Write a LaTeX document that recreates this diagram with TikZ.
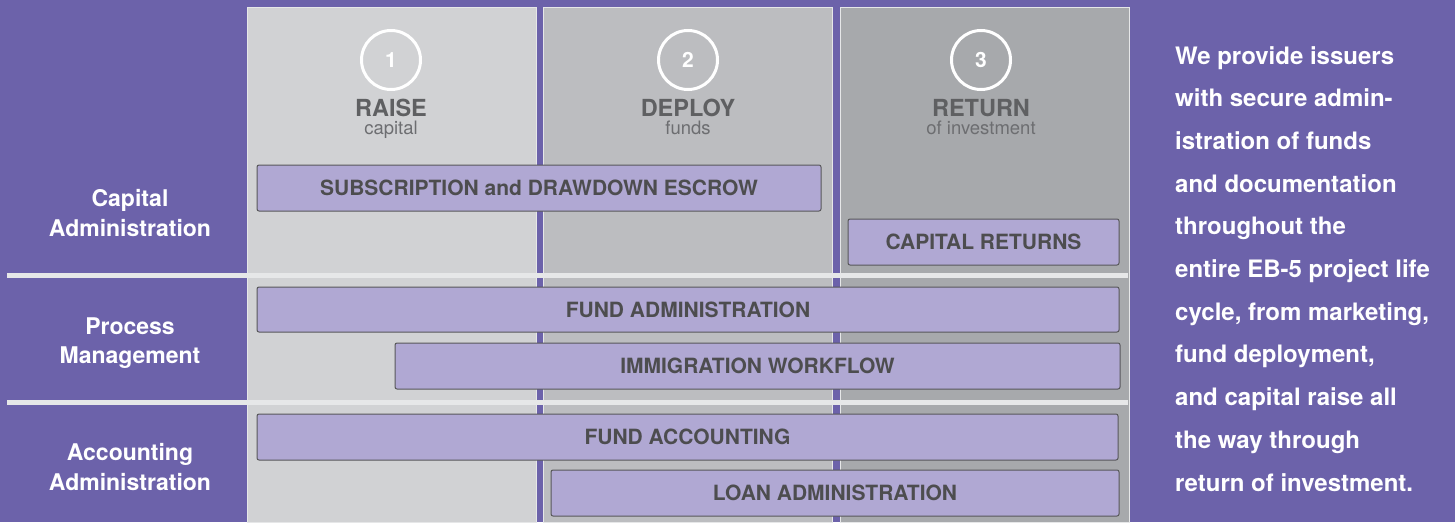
\documentclass[tikz,border=0pt]{standalone}
\usepackage{fontspec}
\setmainfont{TeX Gyre Heros}
\usetikzlibrary{positioning}
\definecolor{bgpurple}{RGB}{108, 98, 170}
\definecolor{colraise}{RGB}{209, 210, 212}
\definecolor{coldeploy}{RGB}{188, 189, 192}
\definecolor{colreturn}{RGB}{167, 169, 172}
\definecolor{barfill}{RGB}{176, 168, 211}
\definecolor{barline}{RGB}{88, 88, 90}
\definecolor{bartext}{RGB}{77, 77, 79}
\definecolor{headgray}{RGB}{95, 96, 98}
\definecolor{subgray}{RGB}{109, 110, 113}
\definecolor{rulegray}{RGB}{230, 231, 232}
\tikzset{
  phasecol/.style={draw=rulegray, line width=0.8pt, minimum width=289pt, minimum height=515pt, outer sep=0pt, inner sep=0pt},
  numcircle/.style={circle, draw=white, line width=3pt, minimum size=59pt, inner sep=0pt, text=white, font=\fontsize{21}{24}\selectfont\bfseries},
  phasehead/.style={inner sep=0pt, text=headgray, font=\fontsize{23.5}{26}\selectfont\bfseries},
  phasesub/.style={inner sep=0pt, text=subgray, font=\fontsize{18.5}{21}\selectfont},
  servicebar/.style={draw=barline, line width=1pt, fill=barfill, rounded corners=2pt, minimum height=46pt, inner sep=0pt, text=bartext, font=\fontsize{21}{24}\selectfont\bfseries},
  rowlabel/.style={align=center, inner sep=0pt, text=white, font=\fontsize{23}{29.5}\selectfont\bfseries},
  rowrule/.style={draw=rulegray, line width=4.5pt},
  blurb/.style={align=left, inner sep=0pt, text=white, font=\fontsize{24}{42.7}\selectfont\bfseries}
}
\begin{document}
\begin{tikzpicture}[x=1pt, y=-1pt]
    \useasboundingbox (0,0) rectangle (1455,522);
    \fill[bgpurple] (0,0) rectangle (1455,522);

    % three phase columns
    \node (col1) [phasecol, fill=colraise, anchor=north west] at (247,7) {};
    \node (col2) [phasecol, fill=coldeploy, right=7.5pt of col1] {};
    \node (col3) [phasecol, fill=colreturn, right=7.5pt of col2] {};

    \node (num1) [numcircle] at (391,60) {1};
    \node (num2) [numcircle] at (688,60) {2};
    \node (num3) [numcircle] at (981,60) {3};
    \node (raise) [phasehead, below=8pt of num1] {RAISE};
    \node (deploy) [phasehead, below=8pt of num2] {DEPLOY};
    \node (return) [phasehead, below=8pt of num3] {RETURN};
    \node (raisesub) [phasesub, below=4pt of raise] {capital};
    \node (deploysub) [phasesub, below=4pt of deploy] {funds};
    \node (returnsub) [phasesub, below=4pt of return] {of investment};

    % row separators
    \draw[rowrule] (7,275.5) -- (1128,275.5);
    \draw[rowrule] (7,402.5) -- (1128,402.5);

    % service bars
    \node (escrow) [servicebar, minimum width=564pt] at (539,188) {SUBSCRIPTION and DRAWDOWN ESCROW};
    \node (capret) [servicebar, minimum width=271pt] at (983.5,242) {CAPITAL RETURNS};
    \node (fundadm) [servicebar, minimum width=862pt, minimum height=45pt] at (688,309.5) {FUND ADMINISTRATION};
    \node (immig) [servicebar, minimum width=725pt] at (757.5,366) {IMMIGRATION WORKFLOW};
    \node (fundacc) [servicebar, minimum width=861pt] at (687.5,437) {FUND ACCOUNTING};
    \node (loanadm) [servicebar, minimum width=568pt] at (835,493) {LOAN ADMINISTRATION};

    % row labels
    \node (capadm) [rowlabel] at (130,213) {Capital\\Administration};
    \node (procmgmt) [rowlabel] at (130,343) {Process\\Management};
    \node (acctadm) [rowlabel] at (130,467) {Accounting\\Administration};

    \node (summary) [blurb, anchor=north west] at (1175,46) {We provide issuers\\with secure admin-\\istration of funds\\and documentation\\throughout the\\entire EB-5 project life\\cycle, from marketing,\\fund deployment,\\and capital raise all\\the way through\\return of investment.};
\end{tikzpicture}
\end{document}
